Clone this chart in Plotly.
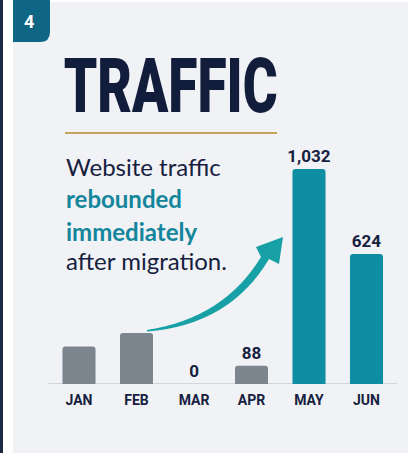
import plotly.graph_objects as go

W, H = 419, 453

months = ["JAN", "FEB", "MAR", "APR", "MAY", "JUN"]
visits = [180, 245, 0, 88, 1032, 624]
show_label = [False, False, True, True, True, True]
bar_colors = ["#7d868f", "#7d868f", "#7d868f", "#7d868f", "#0f8ea3", "#0f8ea3"]

title_text = "TRAFFIC"
sub_lines = [
    ("Website traffic", "#16213f", 400),
    ("rebounded", "#13869c", 700),
    ("immediately", "#13869c", 700),
    ("after migration.", "#16213f", 400),
]
badge_text = "4"


def px(x):
    return x / W


def py(y):
    return 1 - y / H


labels = [f"{v:,}" if s else "" for v, s in zip(visits, show_label)]

fig = go.Figure()
fig.add_trace(go.Bar(
    x=months, y=visits,
    marker=dict(color=bar_colors, cornerradius=3, line=dict(width=0)),
    text=labels, textposition="outside", cliponaxis=False, constraintext="none",
    textfont=dict(family="Roboto", size=17, color="#16213f", weight=700),
    width=0.575, hoverinfo="skip",
))

shapes = []
# page panel
shapes.append(dict(type="rect", xref="paper", yref="paper", x0=px(13), x1=px(408), y0=0, y1=py(2),
                   fillcolor="#f1f2f5", line=dict(width=0), layer="below"))
shapes.append(dict(type="rect", xref="paper", yref="paper", x0=0, x1=px(3), y0=0, y1=1,
                   fillcolor="#1c2b45", line=dict(width=0), layer="below"))
# badge
bx0, bx1, by0, by1, r = 13, 50, 0, 42, 10
badge_path = (f"M{px(bx0)},{py(by0)} L{px(bx1)},{py(by0)} L{px(bx1)},{py(by1 - r)} "
              f"Q{px(bx1)},{py(by1)} {px(bx1 - r)},{py(by1)} L{px(bx0)},{py(by1)} Z")
shapes.append(dict(type="path", xref="paper", yref="paper", path=badge_path,
                   fillcolor="#0e6684", line=dict(width=0)))
# gold rule
shapes.append(dict(type="line", xref="paper", yref="paper", x0=px(65), x1=px(277), y0=py(133), y1=py(133),
                   line=dict(color="#c4a259", width=2.2)))
# baseline
shapes.append(dict(type="line", xref="paper", yref="y", x0=px(48), x1=px(397), y0=0, y1=0,
                   line=dict(color="#b3b9c0", width=1.2), layer="below"))
# arrow
pts = [("M", [(147, 330)]), ("Q", [(224, 318), (261, 257)]), ("L", [(256, 247)]), ("L", [(283, 237)]),
       ("L", [(279, 264)]), ("L", [(269, 259)]), ("Q", [(230, 325), (147, 331.5)])]
path = ""
for cmd, cs in pts:
    path += cmd + " ".join(f"{px(a):.5f},{py(b):.5f}" for a, b in cs) + " "
path += "Z"
shapes.append(dict(type="path", xref="paper", yref="paper", path=path,
                   fillcolor="#17a1a6", line=dict(width=0)))

annotations = []
annotations.append(dict(text=f"<b>{badge_text}</b>", x=px(29), y=py(21), xref="paper", yref="paper",
                        xanchor="center", yanchor="middle",
                        showarrow=False, font=dict(family="Roboto", size=18, color="white")))
annotations.append(dict(text=title_text, x=px(170), y=py(86), xref="paper", yref="paper",
                        xanchor="center", yanchor="middle", showarrow=False,
                        font=dict(family="Roboto", size=76, color="#121d3b", weight=900)))
ys = [166, 198, 231, 260]
for (t, c, wgt), yy in zip(sub_lines, ys):
    annotations.append(dict(text=t, x=px(64), y=py(yy), xref="paper", yref="paper",
                            xanchor="left", yanchor="middle", showarrow=False,
                            font=dict(family="Lato", size=24, color=c, weight=wgt)))

fig.update_layout(
    width=W, height=H,
    margin=dict(l=0, r=0, t=0, b=0),
    paper_bgcolor="white", plot_bgcolor="rgba(0,0,0,0)",
    showlegend=False,
    shapes=shapes, annotations=annotations,
    bargap=0.425,
    xaxis=dict(domain=[px(50.25), px(395.25)], showgrid=False, zeroline=False, showline=False,
               ticks="", ticklabelstandoff=6,
               tickfont=dict(family="Roboto", size=14, color="#16213f", weight=700)),
    yaxis=dict(domain=[py(384), py(150)], range=[0, 1123], showgrid=False, zeroline=False,
               showticklabels=False, ticks=""),
)

post = """
document.body.style.margin = '0';
function fitTitle() {
  document.querySelectorAll('.annotation-text').forEach(function (el) {
    if (el.textContent === 'TRAFFIC') {
      el.setAttribute('textLength', '214');
      el.setAttribute('lengthAdjust', 'spacingAndGlyphs');
    }
  });
}
fitTitle();
setTimeout(fitTitle, 50);
"""

fig.write_html("out.html", post_script=post, config={"displayModeBar": False})
